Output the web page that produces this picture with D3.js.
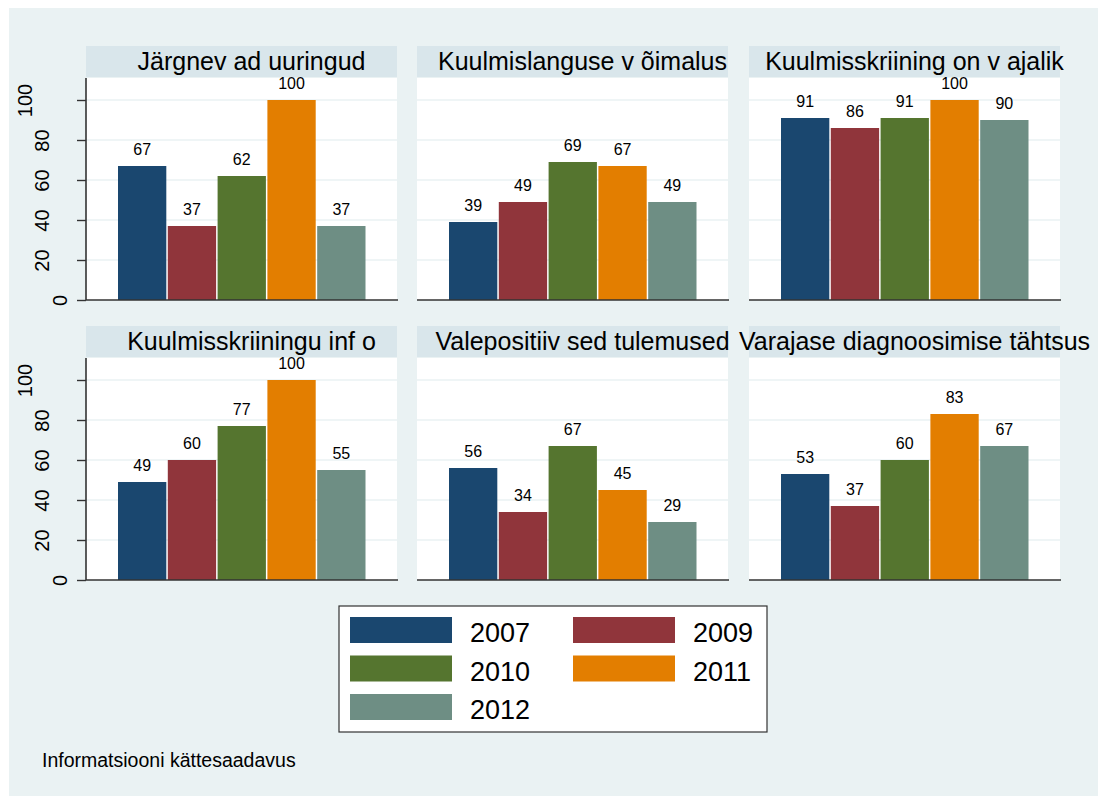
<!DOCTYPE html>
<html>
<head>
<meta charset="utf-8">
<script src="https://cdn.jsdelivr.net/npm/d3@7"></script>
<style>
  body { margin: 0; background: #fff; }
  text { font-family: "Liberation Sans", Arial, sans-serif; fill: #000; }
</style>
</head>
<body>
<svg id="chart" width="1099" height="796"></svg>
<script>
// panel titles (as rendered in the source picture)
var categories = ["Järgnev ad uuringud", "Kuulmislanguse v õimalus", "Kuulmisskriining on v ajalik",
                  "Kuulmisskriiningu inf o", "Valepositiiv sed tulemused", "Varajase diagnoosimise tähtsus"];
var years = ["2007", "2009", "2010", "2011", "2012"];
var v2007 = [67, 39, 91, 49, 56, 53];
var v2009 = [37, 49, 86, 60, 34, 37];
var v2010 = [62, 69, 91, 77, 67, 60];
var v2011 = [100, 67, 100, 100, 45, 83];
var v2012 = [37, 49, 90, 55, 29, 67];
var yTicks = [0, 20, 40, 60, 80, 100];
var footnote = "Informatsiooni kättesaadavus";

var series = [v2007, v2009, v2010, v2011, v2012];
var colors = ["#1a476f", "#90353b", "#55752f", "#e37e00", "#6e8e84"];

var svg = d3.select("#chart");

// outer background
svg.append("rect").attr("x", 9).attr("y", 8).attr("width", 1089).attr("height", 788).attr("fill", "#eaf2f3");

var panelW = 311, plotH = 222, stripH = 31;
var colX = [86, 417, 749];
var rowY = [46, 326];

var y = d3.scaleLinear().domain([0, 100]).range([222, 22]);
var x = d3.scaleBand().domain(years).range([32, 279.5]).paddingInner(0.03);
var color = d3.scaleOrdinal().domain(years).range(colors);

categories.forEach(function(cat, i){
  var px = colX[i % 3], py = rowY[Math.floor(i / 3)];
  var g = svg.append("g").attr("transform", "translate(" + px + "," + (py + stripH + 1) + ")");

  g.append("rect").attr("width", panelW).attr("height", plotH).attr("fill", "#fff");

  g.selectAll(".grid").data(yTicks.slice(1)).enter().append("line")
    .attr("x1", 0).attr("x2", panelW)
    .attr("y1", function(d){ return y(d); }).attr("y2", function(d){ return y(d); })
    .attr("stroke", "#eaf2f3").attr("stroke-width", 1.5);

  var vals = years.map(function(yr, k){ return {year: yr, v: series[k][i]}; });

  g.selectAll(".bar").data(vals).enter().append("rect")
    .attr("x", function(d){ return x(d.year); })
    .attr("y", function(d){ return y(d.v); })
    .attr("width", x.bandwidth())
    .attr("height", function(d){ return y(0) - y(d.v); })
    .attr("fill", function(d){ return color(d.year); });

  g.selectAll(".lab").data(vals).enter().append("text")
    .attr("x", function(d){ return x(d.year) + x.bandwidth() / 2; })
    .attr("y", function(d){ return y(d.v) - 11; })
    .attr("text-anchor", "middle").attr("font-size", 16)
    .text(function(d){ return d.v; });

  // baseline
  g.append("line").attr("x1", 0).attr("x2", panelW + 1).attr("y1", y(0)).attr("y2", y(0))
    .attr("stroke", "#333").attr("stroke-width", 1.6);

  if (i % 3 === 0) {
    var axis = d3.axisLeft(y).tickValues(yTicks).tickSize(9);
    var ag = g.append("g").call(axis);
    ag.select(".domain").attr("d", "M0," + y(0) + "V0").attr("stroke", "#333").attr("stroke-width", 1.6);
    ag.selectAll(".tick line").attr("stroke", "#333").attr("stroke-width", 1.4);
    // the source staggers rotated labels by their length
    ag.selectAll(".tick text")
      .attr("font-size", 20).attr("font-family", "Liberation Sans, Arial, sans-serif").attr("fill", "#000")
      .attr("x", 0).attr("y", 0).attr("dy", "0.36em").attr("text-anchor", "middle")
      .attr("transform", function(d){ return "translate(" + (-26 - (String(d).length - 1) * 17.75) + ",0) rotate(-90)"; });
  }

  // strip on top
  svg.append("rect").attr("x", px).attr("y", py).attr("width", panelW).attr("height", stripH).attr("fill", "#d9e6eb");
});

// titles drawn after all strips so overflowing text stays visible
categories.forEach(function(cat, i){
  var px = colX[i % 3], py = rowY[Math.floor(i / 3)];
  svg.append("text").attr("x", px + panelW / 2 + 10).attr("y", py + 24)
    .attr("text-anchor", "middle").attr("font-size", 25).text(cat);
});

// legend
var lg = svg.append("g").attr("transform", "translate(339,606)");
lg.append("rect").attr("width", 428).attr("height", 126).attr("fill", "#fff").attr("stroke", "#333").attr("stroke-width", 1.2);
var item = lg.selectAll(".item").data(years).enter().append("g")
  .attr("transform", function(d, k){ return "translate(" + (11 + (k % 2) * 223) + "," + (11 + Math.floor(k / 2) * 38.5) + ")"; });
item.append("rect").attr("width", 102).attr("height", 26).attr("fill", function(d){ return color(d); });
item.append("text").attr("x", 120).attr("y", 25).attr("font-size", 27).text(function(d){ return d; });

svg.append("text").attr("x", 42).attr("y", 767).attr("font-size", 19.5).text(footnote);
</script>
</body>
</html>
